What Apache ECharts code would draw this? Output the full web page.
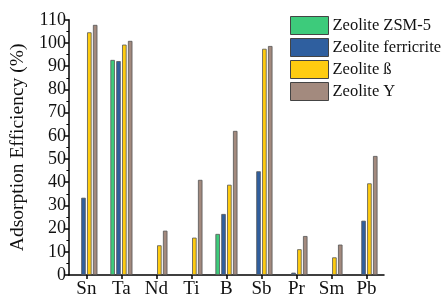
<!DOCTYPE html>
<html><head><meta charset="utf-8">
<script src="https://cdn.jsdelivr.net/npm/echarts@6/dist/echarts.min.js"></script>
<style>html,body{margin:0;padding:0;background:#fff}#c{width:445px;height:301px}</style>
</head><body><div id="c"></div>
<script>
const categories = ['Sn','Ta','Nd','Ti','B','Sb','Pr','Sm','Pb'];
const seriesNames = ['Zeolite ZSM-5','Zeolite ferricrite','Zeolite \u00DF','Zeolite Y'];
const zsm5 = [null, 92.7, null, null, 17.7, null, null, null, null];
const ferricrite = [33.3, 92.2, null, null, 26.3, 44.7, 1.0, null, 23.4];
const beta = [104.6, 99.3, 12.8, 16.1, 38.9, 97.5, 11.1, 7.6, 39.5];
const zeoY = [107.8, 100.9, 19.1, 41.0, 62.1, 98.7, 16.8, 13.1, 51.3];
const yTicks = [0,10,20,30,40,50,60,70,80,90,100,110];
const colors = ['#3DCB7B','#2F5F9F','#FFCC10','#A38A7E'];
const font = '"Liberation Serif", "Times New Roman", serif';
const chart = echarts.init(document.getElementById('c'));
const dataSets = [zsm5, ferricrite, beta, zeoY];
chart.setOption({
  animation:false,
  grid:{left:66,right:61,top:19.8,bottom:26,containLabel:false},
  legend:{
    data:seriesNames, orient:'vertical', left:285, top:11,
    itemWidth:38, itemHeight:18, itemGap:3, icon:'rect',
    textStyle:{fontFamily:font,fontSize:16.5,color:'#111',padding:[0,0,0,-1]},
    itemStyle:{borderColor:'#444',borderWidth:1}
  },
  xAxis:{
    type:'category', data:categories, boundaryGap:true,
    axisLine:{lineStyle:{color:'#000',width:1.5}},
    axisTick:{show:true,alignWithLabel:true,length:4,lineStyle:{color:'#000',width:1.5}},
    axisLabel:{fontFamily:font,fontSize:19,color:'#111',margin:5}
  },
  yAxis:{
    type:'value', min:0, max:110, interval:10,
    name:'Adsorption Efficiency (%)', nameLocation:'middle', nameGap:39,
    nameTextStyle:{fontFamily:font,fontSize:19.5,color:'#111'},
    axisLine:{show:true,lineStyle:{color:'#000',width:1.5}},
    axisTick:{show:true,length:4,lineStyle:{color:'#000',width:1.5}},
    minorTick:{show:true,splitNumber:2,length:2.5,lineStyle:{color:'#000',width:1}},
    splitLine:{show:false},
    axisLabel:{fontFamily:font,fontSize:18,color:'#111',margin:3,
      formatter:v=>yTicks.includes(v)?String(v):''}
  },
  series: dataSets.map((d,i)=>({
    name:seriesNames[i], type:'bar', data:d, barWidth:4.5, barGap:'30%',
    itemStyle:{color:colors[i],borderColor:'#555',borderWidth:0.8}
  }))
});
</script></body></html>
